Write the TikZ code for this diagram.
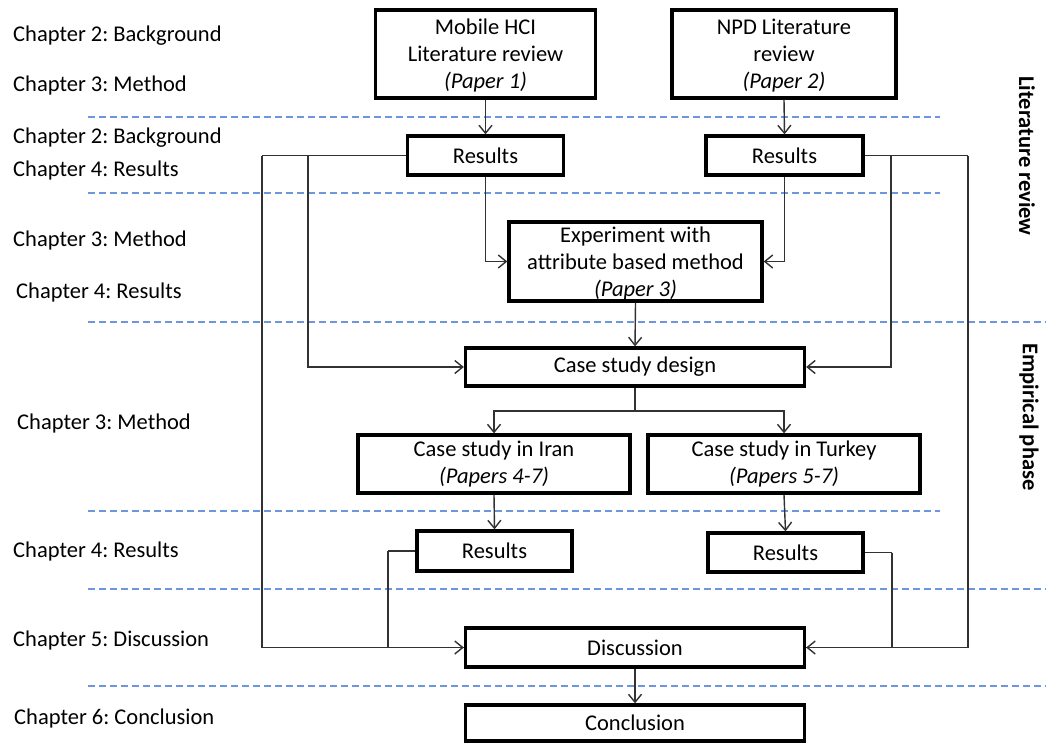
\documentclass[tikz,border=0pt]{standalone}
\usepackage{fontspec}
\setmainfont{Carlito}
\frenchspacing
\usetikzlibrary{arrows.meta}
\definecolor{sepblue}{RGB}{110,150,220}
\definecolor{linegray}{RGB}{50,50,50}
\begin{document}
\begin{tikzpicture}[x=1pt,y=-1pt,
  box/.style={draw=black,line width=3.3pt,align=center,inner sep=0pt,
    font=\fontsize{22.5}{27}\selectfont},
  chap/.style={anchor=base west,inner sep=0pt,font=\fontsize{22.5}{27}\selectfont},
  phase/.style={rotate=-90,inner sep=0pt,font=\fontsize{22.5}{27}\selectfont\bfseries},
  sep/.style={draw=sepblue,line width=1.3pt,dash pattern=on 7pt off 4pt},
  conn/.style={draw=linegray,line width=1.4pt},
  arr/.style={conn,-{Straight Barb[length=8pt,width=13pt,line width=1.4pt]}}
]
\useasboundingbox (0,0) rectangle (1046,744);
\fill[white] (0,0) rectangle (1046,744);

% section separators
\draw[sep] (88,117) -- (940,117);
\draw[sep] (88,193) -- (940,193);
\draw[sep] (88,322) -- (1046,322);
\draw[sep] (88,511) -- (940,511);
\draw[sep] (88,589) -- (1046,589);
\draw[sep] (88,686) -- (1046,686);

% chapter labels
\node[chap] (c1)  at (13,41)  {Chapter 2: Background};
\node[chap] (c2)  at (13,91)  {Chapter 3: Method};
\node[chap] (c3)  at (13,143) {Chapter 2: Background};
\node[chap] (c4)  at (13,176) {Chapter 4: Results};
\node[chap] (c5)  at (13,246) {Chapter 3: Method};
\node[chap] (c6)  at (16,298) {Chapter 4: Results};
\node[chap] (c7)  at (17,429) {Chapter 3: Method};
\node[chap] (c8)  at (13,557) {Chapter 4: Results};
\node[chap] (c9)  at (13,646) {Chapter 5: Discussion};
\node[chap] (c10) at (14,724) {Chapter 6: Conclusion};

% phase labels
\node[phase] (lit) at (1027,156) {Literature review};
\node[phase] (emp) at (1029,417) {Empirical phase};

% boxes
\node[box,minimum width=220pt,minimum height=88pt] (mob) at (485.5,54)
  {\rule{0pt}{19pt}Mobile HCI\\Literature review\\\textit{(Paper 1)}};
\node[box,minimum width=224pt,minimum height=88pt] (npd) at (784,54)
  {\rule{0pt}{19pt}NPD Literature\\review\\\textit{(Paper 2)}};
\node[box,minimum width=156pt,minimum height=39pt] (res1) at (485.5,155.5) {Results};
\node[box,minimum width=157pt,minimum height=39pt] (res2) at (784.5,155.5) {Results};
\node[box,minimum width=253pt,minimum height=79pt] (exp) at (635.5,261.5)
  {\rule{0pt}{19pt}Experiment with\\attribute based method\\\textit{(Paper 3)}};
\node[box,minimum width=339pt,minimum height=38pt] (csd) at (635,367) {Case study design};
\node[box,minimum width=272pt,minimum height=58pt] (iran) at (494,464)
  {Case study in Iran\\\textit{(Papers 4-7)}};
\node[box,minimum width=272pt,minimum height=58pt] (turk) at (784,464)
  {Case study in Turkey\\\textit{(Papers 5-7)}};
\node[box,minimum width=155pt,minimum height=40pt] (res3) at (494.5,551) {Results};
\node[box,minimum width=155pt,minimum height=39pt] (res4) at (785.5,552.5) {Results};
\node[box,minimum width=339pt,minimum height=39pt] (disc) at (635,647.5) {Discussion};
\node[box,minimum width=339pt,minimum height=36pt] (conc) at (635,723) {Conclusion};

% routing points
\coordinate (lo) at (262,155.5);
\coordinate (li) at (308,155.5);
\coordinate (ri) at (891,155.5);
\coordinate (ro) at (968,155.5);
\coordinate (split) at (635,411);
\coordinate (l3) at (388,551);
\coordinate (r4) at (892,552.5);

% literature review flow
\draw[arr] (mob.south) -- (res1.north);
\draw[arr] (npd.south) -- (res2.north);
\draw[arr] (res1.south) |- (exp.west);
\draw[arr] (res2.south) |- (exp.east);
\draw[arr] (exp.south) -- (csd.north);

% results feeding the case study design and the discussion
\draw[conn] (res1.west) -- (lo);
\draw[arr] (lo) |- (disc.west);
\draw[arr] (li) |- (csd.west);
\draw[conn] (res2.east) -- (ro);
\draw[arr] (ro) |- (disc.east);
\draw[arr] (ri) |- (csd.east);

% empirical phase
\draw[conn] (csd.south) -- (split);
\draw[arr] (split) -| (iran.north);
\draw[arr] (split) -| (turk.north);
\draw[arr] (iran.south) -- (res3.north);
\draw[arr] (turk.south) -- (res4.north);
\draw[conn] (res3.west) -- (l3);
\draw[conn] (l3) |- (disc.west);
\draw[conn] (res4.east) -- (r4);
\draw[conn] (r4) |- (disc.east);
\draw[arr] (disc.south) -- (conc.north);
\end{tikzpicture}
\end{document}
